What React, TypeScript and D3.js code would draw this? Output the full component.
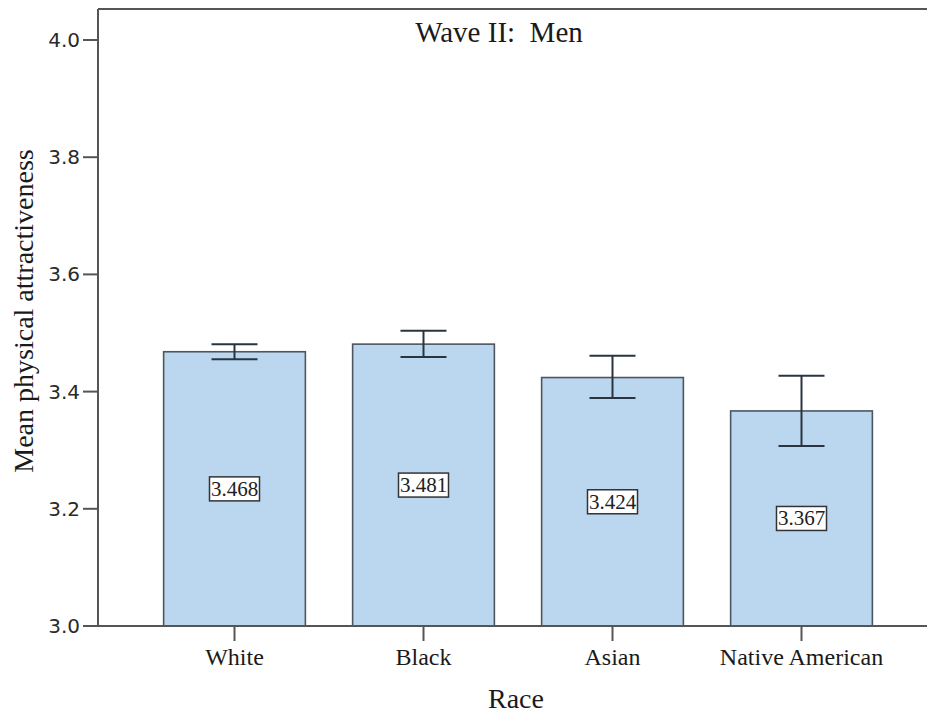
import React from "react";
import * as d3 from "d3";

const categories = ["White", "Black", "Asian", "Native American"];
const means = [3.468, 3.481, 3.424, 3.367];
const errLow = [3.455, 3.459, 3.389, 3.307];
const errHigh = [3.481, 3.504, 3.461, 3.427];
const yTicks = [3.0, 3.2, 3.4, 3.6, 3.8, 4.0];
const title = "Wave II:  Men";
const xTitle = "Race";
const yTitle = "Mean physical attractiveness";

const W = 927;
const H = 720;
const left = 98;
const top = 9;
const bottom = 626;

export default function App() {
  const y = d3.scaleLinear().domain([3.0, 4.0]).range([bottom, 40]);
  const x = d3
    .scaleBand<string>()
    .domain(categories)
    .range([140, 896])
    .paddingInner(0.25)
    .paddingOuter(0.125);
  const bw = x.bandwidth();
  const serif = "'Liberation Serif', 'Times New Roman', serif";
  const sans = "'DejaVu Sans', Verdana, sans-serif";
  const axisColor = "#555";

  return (
    <svg
      width={W}
      height={H}
      style={{ position: "absolute", left: 0, top: 0, background: "#fff" }}
    >
      {/* frame */}
      <line x1={left} x2={W} y1={top} y2={top} stroke={axisColor} strokeWidth={2} />
      <line x1={left} x2={left} y1={top} y2={bottom} stroke={axisColor} strokeWidth={2} />

      {/* bars */}
      {categories.map((c, i) => {
        const x0 = x(c)!;
        const yTop = y(means[i]);
        return (
          <rect
            key={c}
            x={x0}
            y={yTop}
            width={bw}
            height={bottom - yTop}
            fill="#bbd7f0"
            stroke="#4d5560"
            strokeWidth={1.6}
          />
        );
      })}

      <line x1={left} x2={W} y1={bottom} y2={bottom} stroke={axisColor} strokeWidth={2} />

      {/* error bars */}
      {categories.map((c, i) => {
        const cx = x(c)! + bw / 2;
        const cap = 23;
        return (
          <g key={c} stroke="#2a3440" strokeWidth={2}>
            <line x1={cx} x2={cx} y1={y(errHigh[i])} y2={y(errLow[i])} />
            <line x1={cx - cap} x2={cx + cap} y1={y(errHigh[i])} y2={y(errHigh[i])} />
            <line x1={cx - cap} x2={cx + cap} y1={y(errLow[i])} y2={y(errLow[i])} />
          </g>
        );
      })}

      {/* value labels */}
      {categories.map((c, i) => {
        const cx = x(c)! + bw / 2;
        const cy = (y(means[i]) + bottom) / 2;
        return (
          <g key={c}>
            <rect
              x={cx - 25}
              y={cy - 12}
              width={50}
              height={24}
              fill="#fff"
              stroke="#333"
              strokeWidth={1.5}
            />
            <text
              x={cx}
              y={cy + 7}
              textAnchor="middle"
              fontFamily={serif}
              fontSize={21}
              fill="#222"
            >
              {means[i].toFixed(3)}
            </text>
          </g>
        );
      })}

      {/* y ticks */}
      {yTicks.map((t) => (
        <g key={t}>
          <line x1={left - 15} x2={left} y1={y(t)} y2={y(t)} stroke={axisColor} strokeWidth={2} />
          <text
            x={80}
            y={y(t) + 7}
            textAnchor="end"
            fontFamily={sans}
            fontSize={20}
            fill="#2a2a2a"
          >
            {t.toFixed(1)}
          </text>
        </g>
      ))}

      {/* x ticks */}
      {categories.map((c) => {
        const cx = x(c)! + bw / 2;
        return (
          <g key={c}>
            <line x1={cx} x2={cx} y1={bottom} y2={bottom + 15} stroke={axisColor} strokeWidth={2} />
            <text
              x={cx}
              y={665}
              textAnchor="middle"
              fontFamily={serif}
              fontSize={24}
              fill="#1a1a1a"
            >
              {c}
            </text>
          </g>
        );
      })}

      {/* titles */}
      <text
        x={499}
        y={42}
        textAnchor="middle"
        fontFamily={serif}
        fontSize={29}
        fill="#1a1a1a"
        style={{ whiteSpace: "pre" }}
        xmlSpace="preserve"
      >
        {title}
      </text>
      <text x={516} y={708} textAnchor="middle" fontFamily={serif} fontSize={28} fill="#1a1a1a">
        {xTitle}
      </text>
      <text
        transform={`translate(33, 311) rotate(-90)`}
        textAnchor="middle"
        fontFamily={serif}
        fontSize={28}
        fill="#1a1a1a"
      >
        {yTitle}
      </text>
    </svg>
  );
}
